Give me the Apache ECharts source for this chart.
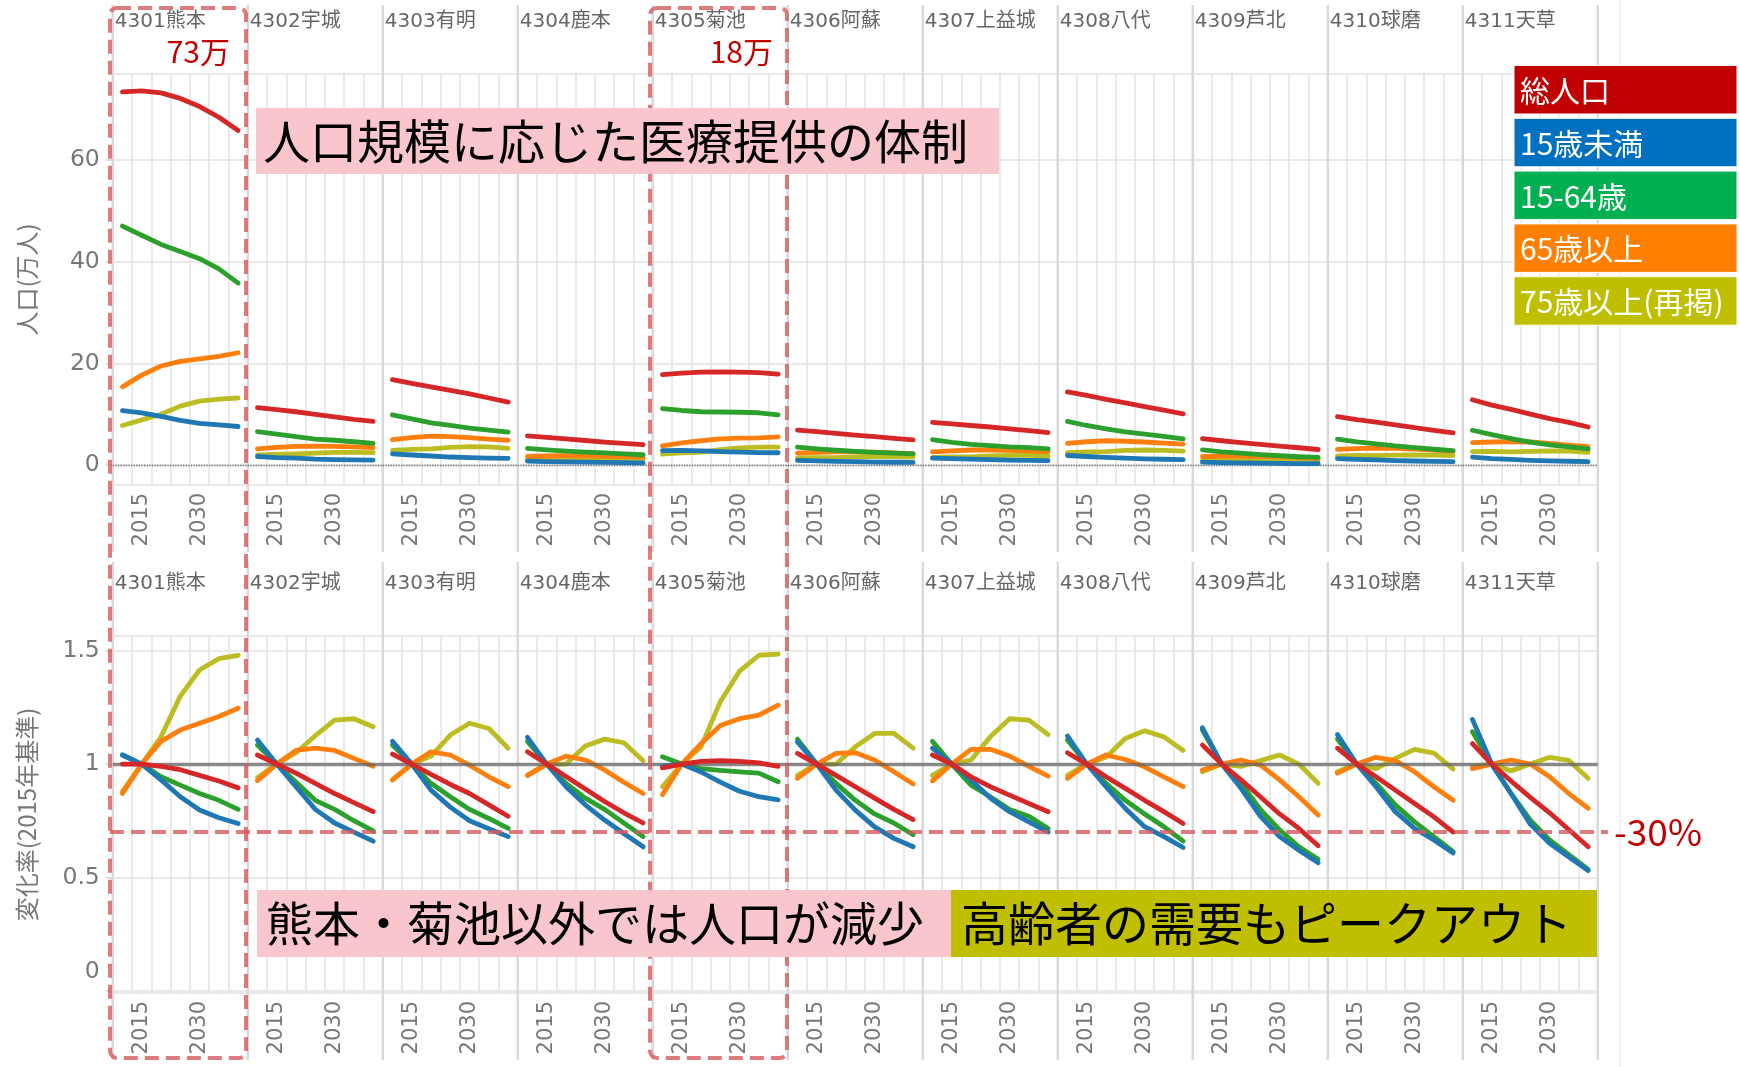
<!DOCTYPE html>
<html><head><meta charset="utf-8">
<script src="https://cdn.jsdelivr.net/npm/echarts@6/dist/echarts.min.js"></script>
<style>html,body{margin:0;padding:0;background:#fff}#c{width:1739px;height:1067px}</style>
</head><body><div id="c"></div><script>
// ---------- data ----------
const years = ['2010','2015','2020','2025','2030','2035','2040'];
const xTickLabels = ['2015','2030'];
const regions = ['4301熊本','4302宇城','4303有明','4304鹿本','4305菊池','4306阿蘇','4307上益城','4308八代','4309芦北','4310球磨','4311天草'];
const popTicks = [0,20,40,60];
const rateTicks = [0,0.5,1,1.5];

// population (万人)
const popTotal = [
 [73.4,73.6,73.2,72.1,70.5,68.4,65.8],
 [11.3,10.9,10.5,10.0,9.5,9.0,8.6],
 [16.8,16.1,15.4,14.7,14.0,13.2,12.4],
 [5.76,5.46,5.15,4.85,4.55,4.3,4.04],
 [17.8,18.1,18.3,18.35,18.3,18.2,17.9],
 [6.9,6.6,6.25,5.9,5.6,5.28,4.97],
 [8.4,8.1,7.8,7.5,7.15,6.8,6.4],
 [14.4,13.7,12.95,12.25,11.5,10.8,10.1],
 [5.2,4.8,4.45,4.1,3.75,3.42,3.08],
 [9.55,8.95,8.45,7.9,7.4,6.85,6.35],
 [12.85,11.8,10.95,10.05,9.15,8.4,7.5]
];
const popU15 = [
 [10.7,10.3,9.6,8.8,8.2,7.9,7.6],
 [1.7,1.5,1.4,1.2,1.1,1.05,1.0],
 [2.2,2.0,1.8,1.6,1.5,1.4,1.35],
 [0.8,0.71,0.64,0.58,0.53,0.49,0.45],
 [2.87,2.9,2.8,2.67,2.55,2.48,2.44],
 [0.93,0.85,0.75,0.68,0.61,0.57,0.54],
 [1.37,1.28,1.19,1.09,1.01,0.95,0.9],
 [1.9,1.7,1.53,1.37,1.23,1.16,1.07],
 [0.58,0.5,0.45,0.39,0.34,0.31,0.29],
 [1.3,1.15,1.04,0.91,0.82,0.76,0.7],
 [1.56,1.3,1.13,0.96,0.85,0.77,0.69]
];
const pop1564 = [
 [47.0,45.2,43.4,42.0,40.6,38.6,35.8],
 [6.6,6.1,5.6,5.1,4.9,4.6,4.3],
 [9.9,9.1,8.3,7.8,7.3,6.9,6.5],
 [3.3,3.0,2.75,2.55,2.4,2.2,2.05],
 [11.1,10.75,10.5,10.45,10.4,10.3,9.9],
 [3.55,3.2,2.93,2.7,2.5,2.37,2.2],
 [5.0,4.5,4.1,3.85,3.6,3.45,3.2],
 [8.6,7.8,7.15,6.55,6.1,5.65,5.15],
 [3.0,2.6,2.38,2.08,1.85,1.65,1.52],
 [5.1,4.6,4.2,3.77,3.43,3.13,2.85],
 [6.86,6.0,5.22,4.52,3.99,3.6,3.19]
];
const pop65 = [
 [15.4,17.7,19.5,20.4,20.9,21.4,22.1],
 [3.2,3.5,3.7,3.75,3.7,3.6,3.45],
 [5.0,5.4,5.7,5.6,5.4,5.1,4.9],
 [1.7,1.8,1.86,1.83,1.75,1.66,1.57],
 [3.8,4.4,4.8,5.15,5.3,5.35,5.55],
 [2.35,2.5,2.62,2.63,2.55,2.42,2.28],
 [2.6,2.8,2.98,2.98,2.9,2.77,2.65],
 [4.3,4.6,4.8,4.7,4.55,4.35,4.15],
 [1.7,1.75,1.78,1.74,1.63,1.5,1.36],
 [3.1,3.25,3.35,3.3,3.14,2.95,2.73],
 [4.45,4.55,4.63,4.55,4.3,3.96,3.66]
];
const pop75 = [
 [7.8,8.9,10.0,11.6,12.6,13.0,13.2],
 [2.0,2.1,2.2,2.35,2.5,2.5,2.45],
 [2.9,3.1,3.2,3.5,3.65,3.6,3.3],
 [1.05,1.1,1.1,1.19,1.22,1.2,1.12],
 [2.15,2.4,2.58,3.06,3.38,3.55,3.56],
 [1.42,1.5,1.5,1.61,1.7,1.7,1.6],
 [1.52,1.6,1.63,1.8,1.92,1.91,1.8],
 [2.47,2.6,2.68,2.9,2.98,2.91,2.76],
 [0.97,1.0,0.99,1.02,1.04,1.0,0.92],
 [1.84,1.9,1.86,1.96,2.02,1.99,1.86],
 [2.67,2.7,2.62,2.7,2.78,2.74,2.53]
];

// change rate (2015 = 1)
const rateTotal = [
 [1.0,1,0.99,0.975,0.95,0.925,0.895],
 [1.04,1,0.96,0.915,0.87,0.83,0.79],
 [1.044,1,0.955,0.91,0.87,0.82,0.77],
 [1.054,1,0.945,0.89,0.835,0.785,0.74],
 [0.983,1,1.012,1.015,1.012,1.005,0.99],
 [1.047,1,0.95,0.9,0.85,0.80,0.755],
 [1.04,1,0.944,0.90,0.863,0.826,0.79],
 [1.05,1,0.944,0.893,0.84,0.79,0.738],
 [1.084,1,0.93,0.856,0.78,0.716,0.64],
 [1.07,1,0.944,0.885,0.826,0.767,0.70],
 [1.09,1,0.925,0.853,0.785,0.71,0.635]
];
const rateU15 = [
 [1.04,1,0.93,0.856,0.797,0.763,0.738],
 [1.106,1,0.90,0.80,0.74,0.70,0.66],
 [1.10,1,0.885,0.81,0.75,0.715,0.68],
 [1.118,1,0.90,0.82,0.753,0.694,0.635],
 [0.99,1,0.965,0.92,0.88,0.856,0.842],
 [1.098,1,0.885,0.797,0.723,0.672,0.635],
 [1.07,1,0.93,0.85,0.79,0.745,0.70],
 [1.124,1,0.90,0.804,0.724,0.68,0.632],
 [1.16,1,0.893,0.77,0.68,0.62,0.565],
 [1.13,1,0.90,0.79,0.716,0.665,0.608],
 [1.197,1,0.87,0.735,0.65,0.59,0.53]
];
const rate1564 = [
 [1.04,1,0.944,0.907,0.87,0.84,0.80],
 [1.084,1,0.92,0.84,0.80,0.75,0.705],
 [1.084,1,0.915,0.856,0.80,0.76,0.716],
 [1.10,1,0.915,0.85,0.80,0.74,0.68],
 [1.032,1,0.98,0.972,0.966,0.96,0.922],
 [1.11,1,0.915,0.84,0.78,0.74,0.688],
 [1.10,1,0.907,0.856,0.80,0.77,0.716],
 [1.106,1,0.915,0.84,0.78,0.724,0.66],
 [1.15,1,0.915,0.80,0.71,0.635,0.58],
 [1.11,1,0.915,0.82,0.745,0.68,0.614],
 [1.143,1,0.87,0.753,0.665,0.60,0.535]
];
const rate65 = [
 [0.87,1,1.10,1.15,1.18,1.21,1.246],
 [0.927,1,1.06,1.07,1.06,1.025,0.99],
 [0.93,1,1.054,1.04,0.995,0.944,0.90],
 [0.95,1,1.035,1.018,0.974,0.92,0.87],
 [0.865,1,1.09,1.17,1.20,1.216,1.26],
 [0.937,1,1.047,1.05,1.018,0.966,0.912],
 [0.926,1,1.065,1.065,1.035,0.99,0.947],
 [0.937,1,1.04,1.02,0.988,0.944,0.90],
 [0.974,1,1.018,0.996,0.93,0.856,0.775],
 [0.96,1,1.03,1.015,0.966,0.90,0.84],
 [0.98,1,1.018,1.0,0.944,0.87,0.805]
];
const rate75 = [
 [0.88,1,1.12,1.30,1.415,1.465,1.48],
 [0.94,1,1.05,1.125,1.194,1.20,1.165],
 [0.93,1,1.035,1.128,1.18,1.157,1.07],
 [0.95,1,1.0,1.08,1.11,1.094,1.015],
 [0.90,1,1.076,1.275,1.41,1.48,1.485],
 [0.95,1,1.0,1.076,1.135,1.135,1.07],
 [0.95,1,1.018,1.12,1.20,1.194,1.13],
 [0.95,1,1.03,1.113,1.147,1.12,1.06],
 [0.966,1,0.99,1.015,1.04,1.0,0.915],
 [0.966,1,0.98,1.025,1.065,1.048,0.978],
 [0.99,1,0.97,1.0,1.03,1.016,0.937]
];

const legendNames = ['総人口','15歳未満','15-64歳','65歳以上','75歳以上(再掲)'];
const legendColors = ['#c00000','#0070c0','#00b050','#ff7f00','#bfbf00'];

// ---------- chart ----------
const chart = echarts.init(document.getElementById('c'));
const N = regions.length;
const PL = 112.8, PW = 135;
const TOP1 = 74, H1 = 411, TOP2 = 636, H2 = 357;
const GRID = '#e3e3e3';
const JP = '"Noto Sans CJK JP","Noto Sans",sans-serif';
const NUM = '"DejaVu Sans","Noto Sans CJK JP",sans-serif';

const defs = [
  {name:legendNames[4], color:'#bcbd22', pop:pop75, rate:rate75},
  {name:legendNames[3], color:'#ff7f0e', pop:pop65, rate:rate65},
  {name:legendNames[2], color:'#2ca02c', pop:pop1564, rate:rate1564},
  {name:legendNames[1], color:'#1f77b4', pop:popU15, rate:rateU15},
  {name:legendNames[0], color:'#d62728', pop:popTotal, rate:rateTotal}
];

const grid=[], xAxis=[], yAxis=[], series=[];
for (let r=0;r<2;r++) for (let i=0;i<N;i++){
  const gi = r*N+i;
  const ticks = r ? rateTicks : popTicks;
  grid.push({left:PL+PW*i, top:r?TOP2:TOP1, width:PW, height:r?H2:H1,
    show:true, borderColor:GRID, borderWidth:1.5, backgroundColor:'transparent'});
  xAxis.push({type:'category', gridIndex:gi, data:years, boundaryGap:true,
    axisLine:{show:false}, axisTick:{show:false},
    splitLine:{show:true, interval:0, lineStyle:{color:GRID, width:1.5}},
    axisLabel:{interval:(idx,val)=>xTickLabels.includes(val), rotate:90, margin:8,
      fontSize:21, color:'#777', fontFamily:NUM}});
  yAxis.push({type:'value', gridIndex:gi,
    min: r ? -0.01 : -3.9, max: r ? 1.565 : 76.9,
    axisLine:{show:false},
    axisTick:{show:i===0, customValues:ticks, length:7, lineStyle:{color:'#cfcfcf', width:1.5}},
    axisLabel:{show:i===0, customValues:ticks, margin:13, fontSize:23.5, color:'#777', fontFamily:NUM,
      formatter:(v)=> (r && v===0) ? '{z|0}' : String(v),
      rich:{z:{fontSize:23.5, color:'#777', fontFamily:NUM, padding:[0,0,38,0]}}},
    splitLine:{show:true, lineStyle:{color:GRID, width:1.5}},
    name: i===0 ? (r ? '変化率(2015年基準)' : '人口(万人)') : '',
    nameLocation:'middle', nameGap:74, nameRotate:90,
    nameTextStyle:{fontSize:24, color:'#777', fontFamily:JP}});
  defs.forEach((d,k)=>{
    const s = {type:'line', name:d.name, xAxisIndex:gi, yAxisIndex:gi,
      data:(r ? d.rate : d.pop)[i], symbol:'none', showSymbol:false, silent:true,
      lineStyle:{color:d.color, width:4.8, cap:'round', join:'round'}, itemStyle:{color:d.color},
      z:2+k};
    if (k===defs.length-1){
      s.markLine = r
        ? {symbol:'none', silent:true, label:{show:false}, animation:false,
           lineStyle:{color:'rgba(100,100,100,0.75)', type:'solid', width:3.4}, data:[{yAxis:1}]}
        : {symbol:'none', silent:true, label:{show:false}, animation:false,
           lineStyle:{color:'#666', type:'dotted', width:1.3}, data:[{yAxis:0}]};
    }
    series.push(s);
  });
}

chart.setOption({animation:false, backgroundColor:'#fff', grid, xAxis, yAxis, series});

// ---------- annotations ----------
const y70 = chart.convertToPixel({yAxisIndex:N}, 0.7);
const g = [];
g.push({type:'line', shape:{x1:1620,y1:0,x2:1620,y2:1067}, style:{stroke:'#f0f0f0', lineWidth:1.5}, z:1});
for (let i=0;i<=N;i++){
  const x = PL+PW*i;
  g.push({type:'line', shape:{x1:x,y1:5,x2:x,y2:552}, style:{stroke:'#d9d9d9', lineWidth:2.5}, z:1});
  g.push({type:'line', shape:{x1:x,y1:562,x2:x,y2:1060}, style:{stroke:'#d9d9d9', lineWidth:2.5}, z:1});
}
regions.forEach((name,i)=>{
  [12, 574].forEach(y=>{
    g.push({type:'text', x:PL+PW*i+2, y:y, style:{text:name, fill:'#666', font:'20px '+NUM, textAlign:'left', textVerticalAlign:'top'}, z:50});
  });
});
// dashed frames (below message boxes)
[[110,246],[650,787]].forEach(([a,b])=>{
  g.push({type:'rect', shape:{x:a,y:8,width:b-a,height:1050,r:7},
    style:{fill:null, stroke:'rgba(214,90,95,0.8)', lineWidth:4, lineDash:[14,7]}, z:80});
});
g.push({type:'line', shape:{x1:110,y1:y70,x2:1608,y2:y70}, style:{stroke:'rgba(214,90,95,0.8)', lineWidth:4, lineDash:[14,7]}, z:80});
g.push({type:'text', x:1614, y:y70, style:{text:'-30%', fill:'#c00000', font:'37px '+JP, textAlign:'left', textVerticalAlign:'middle'}, z:95});
// title box
g.push({type:'rect', shape:{x:256,y:108,width:743,height:66}, style:{fill:'#f8c6cc'}, z:90});
g.push({type:'text', x:263, y:141, style:{text:'人口規模に応じた医療提供の体制', fill:'#000', font:'47px '+JP, textAlign:'left', textVerticalAlign:'middle'}, z:91});
g.push({type:'text', x:230, y:52, style:{text:'73万', fill:'#c00000', font:'30px '+JP, textAlign:'right', textVerticalAlign:'middle'}, z:91});
g.push({type:'text', x:773, y:52, style:{text:'18万', fill:'#c00000', font:'30px '+JP, textAlign:'right', textVerticalAlign:'middle'}, z:91});
// bottom messages
g.push({type:'rect', shape:{x:257,y:890,width:694,height:67}, style:{fill:'#f8c6cc'}, z:90});
g.push({type:'text', x:266, y:923.5, style:{text:'熊本・菊池以外では人口が減少', fill:'#000', font:'47px '+JP, textAlign:'left', textVerticalAlign:'middle'}, z:91});
g.push({type:'rect', shape:{x:951,y:890,width:646,height:67}, style:{fill:'#bfbf00'}, z:90});
g.push({type:'text', x:961, y:923.5, style:{text:'高齢者の需要もピークアウト', fill:'#000', font:'47px '+JP, textAlign:'left', textVerticalAlign:'middle'}, z:91});
// legend boxes
legendNames.forEach((n,k)=>{
  const y = 65.5 + k*52.8;
  g.push({type:'rect', shape:{x:1514,y:y,width:223,height:48.5}, style:{fill:legendColors[k], stroke:'#ffffff', lineWidth:1}, z:90});
  g.push({type:'text', x:1520, y:y+25, style:{text:n, fill:'#fff', font:'30px '+JP, textAlign:'left', textVerticalAlign:'middle'}, z:91});
});
chart.setOption({graphic:{elements:g}});
</script></body></html>
